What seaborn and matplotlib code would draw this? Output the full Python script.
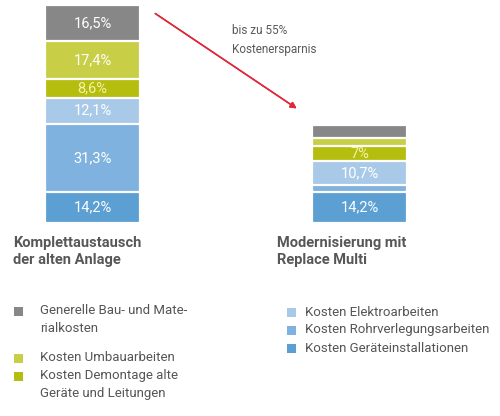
import numpy as np
import pandas as pd
import matplotlib
matplotlib.use('Agg')
import matplotlib.pyplot as plt
from matplotlib.patches import Rectangle
import seaborn as sns

# data (bottom -> top of each stacked bar)
categories = ['Komplettaustausch\nder alten Anlage', 'Modernisierung mit\nReplace Multi']
segments = ['Kosten Geräteinstallationen', 'Kosten Rohrverlegungsarbeiten', 'Kosten Elektroarbeiten',
            'Kosten Demontage alte\nGeräte und Leitungen', 'Kosten Umbauarbeiten',
            'Generelle Bau- und Mate-\nrialkosten']
left_vals = [14.2, 31.3, 12.1, 8.6, 17.4, 16.5]
right_vals = [14.2, 3.4, 10.7, 7.0, 3.9, 5.8]
left_labels = ['14,2%', '31,3%', '12,1%', '8,6%', '17,4%', '16,5%']
right_labels = ['14,2%', '', '10,7%', '7%', '', '']
note = 'bis zu 55%\nKostenersparnis'

colors = ['#5b9fd3', '#80b2df', '#a9c9e8', '#b5be0e', '#c8cf47', '#878787']
label_colors = ['white', 'white', 'white', '#f3f3a8', 'white', 'white']

sns.set_style('white')
plt.rcParams['font.family'] = ['Roboto', 'DejaVu Sans']

W, H = 500, 416
fig = plt.figure(figsize=(5, 4.16), dpi=100)

def fx(x):
    return x / W

def fy(y):
    return 1 - y / H

# bars area: bottom at 223 px, 100% at 5 px
ax = fig.add_axes([0, fy(223), 1, (223 - 5) / H])

df = pd.DataFrame({'cat': np.repeat(categories, len(segments)),
                   'seg': segments * 2,
                   'val': left_vals + right_vals})
df['cum'] = df.groupby('cat')['val'].cumsum()

# layered stacking: draw the tallest cumulative first
for i in range(len(segments) - 1, -1, -1):
    sub = df[df['seg'] == segments[i]]
    sns.barplot(data=sub, x='cat', y='cum', color=colors[i], order=categories,
                width=0.356, edgecolor='white', linewidth=1.6, saturation=1, ax=ax)

for j, (vals, labs) in enumerate([(left_vals, left_labels), (right_vals, right_labels)]):
    base = 0
    for i, v in enumerate(vals):
        if labs[i]:
            ax.text(j, base + v / 2, labs[i], ha='center', va='center',
                    fontsize=10.5, color=label_colors[i])
        base += v

ax.set_xlim(-92.5 / 267, (W - 92.5) / 267)
ax.set_ylim(0, 100.1)
ax.axis('off')

# category labels
for xpx, txt in zip([13, 277], categories):
    fig.text(fx(xpx), fy(236), txt, ha='left', va='top', fontsize=10.5,
             fontweight='bold', color='#575757', linespacing=1.3)

# arrow + note
fig.add_artist(plt.annotate('', xy=(fx(299), fy(110)), xytext=(fx(153), fy(12)),
                            xycoords='figure fraction', textcoords='figure fraction',
                            arrowprops=dict(arrowstyle='-|>', color='#e0283a', lw=1.1,
                                            mutation_scale=9)))
fig.text(fx(232), fy(24), note, ha='left', va='top', fontsize=8.5,
         color='#5a5a5a', linespacing=1.6)

# legend left column
left_leg = [(5, 311), (4, 358), (3, 376)]
for i, yc in left_leg:
    fig.add_artist(Rectangle((fx(14), fy(yc + 4.5)), 9 / W, 9 / H,
                             transform=fig.transFigure, color=colors[i], lw=0))
    fig.text(fx(40), fy(yc - 7), segments[i], ha='left', va='top', fontsize=9.5,
             color='#555555', linespacing=1.45)

# legend right column
right_leg = [(2, 312), (1, 330), (0, 348)]
for i, yc in right_leg:
    fig.add_artist(Rectangle((fx(287), fy(yc + 4.5)), 9 / W, 9 / H,
                             transform=fig.transFigure, color=colors[i], lw=0))
    fig.text(fx(305), fy(yc), segments[i], ha='left', va='center', fontsize=9.5,
             color='#555555')

fig.savefig('out.png', dpi=100)
